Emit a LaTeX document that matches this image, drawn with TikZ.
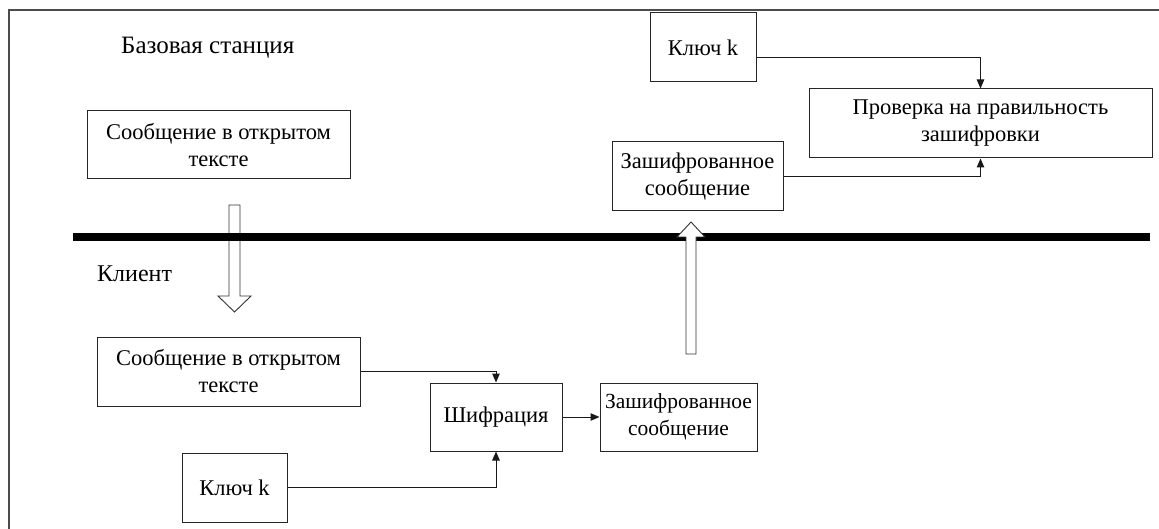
\documentclass[tikz,border=0pt]{standalone}
\usepackage{fontspec}
\setmainfont{Liberation Serif}
\usetikzlibrary{arrows.meta}
\begin{document}
\begin{tikzpicture}[x=1pt,y=-1pt,
  box/.style={draw=black!85, line width=1pt, fill=white, align=center, inner sep=0pt,
    font=\fontsize{22.5}{27}\selectfont},
  conn/.style={draw=black!90, line width=1pt, -{Triangle[length=9pt,width=7.5pt]}},
  lbl/.style={inner sep=0pt},
  blockarrow/.style={draw=black!80, line width=0.9pt, line join=miter}]
\useasboundingbox (0,0) rectangle (1159,529);
% frame
\draw[black!70, line width=1.2pt] (9,529) -- (9,10) -- (1159,10);
% labels
\node[lbl, anchor=west, font=\fontsize{25}{28}\selectfont] (bs) at (121,48) {Базовая станция};
\node[lbl, anchor=west, font=\fontsize{24}{28}\selectfont] (cl) at (97,274) {Клиент};
% boxes
\node[box, minimum width=263pt, minimum height=68pt] (s1) at (218.5,145) {Сообщение в открытом\\тексте};
\node[box, minimum width=106pt, minimum height=69pt] (k1) at (703,47.5) {Ключ k};
\node[box, minimum width=343pt, minimum height=69pt] (chk) at (980.5,123.5) {Проверка на правильность\\зашифровки};
\node[box, minimum width=171pt, minimum height=69pt] (e1) at (697.5,176.5) {Зашифрованное\\сообщение};
\node[box, minimum width=263pt, minimum height=69pt] (s2) at (228.5,371.5) {Сообщение в открытом\\тексте};
\node[box, minimum width=132pt, minimum height=68pt] (enc) at (496,417) {Шифрация};
\node[box, minimum width=157pt, minimum height=68pt, font=\fontsize{21.5}{27}\selectfont] (e2) at (678.5,417) {Зашифрованное\\сообщение};
\node[box, minimum width=105pt, minimum height=69pt] (k2) at (234.5,487.5) {Ключ k};
% connectors
\coordinate (k1out) at ([yshift=-10.5pt]k1.east);
\draw[conn] (k1out) -| (chk.north);
\draw[conn] (e1.east) -| (chk.south);
\draw[conn] (s2.east) -| (enc.north);
\draw[conn] (k2.east) -| (enc.south);
\draw[conn] (enc.east) -- (e2.west);
% down block arrow (unfilled)
\draw[blockarrow] (229,205) -- (240,205) -- (240,296) -- (251,296) -- (234.5,312) -- (218,296) -- (229,296) -- cycle;
% separator
\draw[line width=8.5pt] (73,237) -- (1150,237);
% up block arrow (filled white)
\draw[blockarrow, fill=white] (686,354) -- (696,354) -- (696,237) -- (705,237) -- (691,222) -- (677,237) -- (686,237) -- cycle;
\end{tikzpicture}
\end{document}
